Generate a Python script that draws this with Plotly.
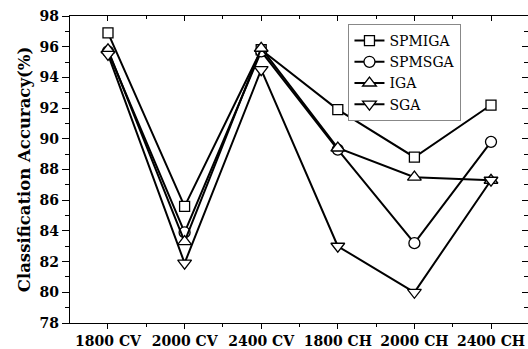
import plotly.graph_objects as go

categories = ["1800 CV", "2000 CV", "2400 CV", "1800 CH", "2000 CH", "2400 CH"]
spmiga = [96.9, 85.6, 95.8, 91.9, 88.8, 92.2]
spmsga = [95.7, 83.9, 95.7, 89.3, 83.2, 89.8]
iga = [95.8, 83.3, 95.9, 89.4, 87.5, 87.3]
sga = [95.5, 81.9, 94.5, 83.0, 80.0, 87.3]
y_ticks = [78, 80, 82, 84, 86, 88, 90, 92, 94, 96, 98]

xs = list(range(len(categories)))

series = [
    ("SPMIGA", spmiga, "square", 10),
    ("SPMSGA", spmsga, "circle", 11),
    ("IGA", iga, "triangle-up", 12),
    ("SGA", sga, "triangle-down", 12),
]

fig = go.Figure()
for name, vals, sym, sz in series:
    fig.add_trace(go.Scatter(
        x=xs, y=vals, name=name, mode="lines+markers",
        line=dict(color="black", width=2),
        marker=dict(symbol=sym, size=sz, color="white",
                    line=dict(color="black", width=1.3)),
    ))

# invisible trace to anchor mirror axes (top / right)
fig.add_trace(go.Scatter(x=xs, y=spmiga, xaxis="x2", yaxis="y2", mode="markers",
                         marker=dict(opacity=0), showlegend=False, hoverinfo="skip"))

tickfont = dict(family="DejaVu Serif", size=14, color="black", weight="bold")
xr = [-0.496, 5.483]
yr = [78, 98]

fig.update_layout(
    width=528, height=349,
    margin=dict(l=70, r=0, t=16, b=26),
    paper_bgcolor="white", plot_bgcolor="white",
    font=dict(family="DejaVu Serif", color="black"),
    xaxis=dict(
        range=xr, tickvals=xs, ticktext=categories, showgrid=False, zeroline=False,
        showline=True, linecolor="black", linewidth=1.2,
        ticks="outside", ticklen=5, tickwidth=1.2, tickcolor="black",
        tickfont=tickfont,
        minor=dict(tickvals=[i + 0.5 for i in xs[:-1]], ticks="outside", ticklen=3,
                   tickwidth=1.2, tickcolor="black", showgrid=False),
    ),
    yaxis=dict(
        range=yr, tickvals=y_ticks, showgrid=False, zeroline=False,
        showline=True, linecolor="black", linewidth=1.2,
        ticks="outside", ticklen=7, tickwidth=1.2, tickcolor="black",
        tickfont=tickfont,
        minor=dict(dtick=1, ticks="outside", ticklen=4, tickwidth=1.2,
                   tickcolor="black", showgrid=False),
        title=dict(text="Classification Accuracy(%)",
                   font=dict(family="DejaVu Serif", size=16.5, color="black", weight="bold"),
                   standoff=4),
    ),
    xaxis2=dict(
        overlaying="x", side="top", anchor="y2", range=xr, tickvals=xs,
        showticklabels=False, showgrid=False, zeroline=False,
        showline=True, linecolor="black", linewidth=1.2,
        ticks="inside", ticklen=5, tickwidth=1.2, tickcolor="black",
        minor=dict(tickvals=[i + 0.5 for i in xs[:-1]], ticks="inside", ticklen=3,
                   tickwidth=1.2, tickcolor="black", showgrid=False),
    ),
    yaxis2=dict(
        overlaying="y", side="right", anchor="x2", range=yr, tickvals=y_ticks,
        showticklabels=False, showgrid=False, zeroline=False,
        showline=True, linecolor="black", linewidth=1.2,
        ticks="inside", ticklen=6, tickwidth=1.2, tickcolor="black",
        minor=dict(dtick=1, ticks="inside", ticklen=4, tickwidth=1.2,
                   tickcolor="black", showgrid=False),
    ),
    legend=dict(
        x=0.608, y=0.974, xanchor="left", yanchor="top",
        bgcolor="white", bordercolor="#888888", borderwidth=1,
        font=dict(family="DejaVu Serif", size=14, color="black"),
        tracegroupgap=0, itemwidth=30,
    ),
    showlegend=True,
)

fig.write_html("out.html")
